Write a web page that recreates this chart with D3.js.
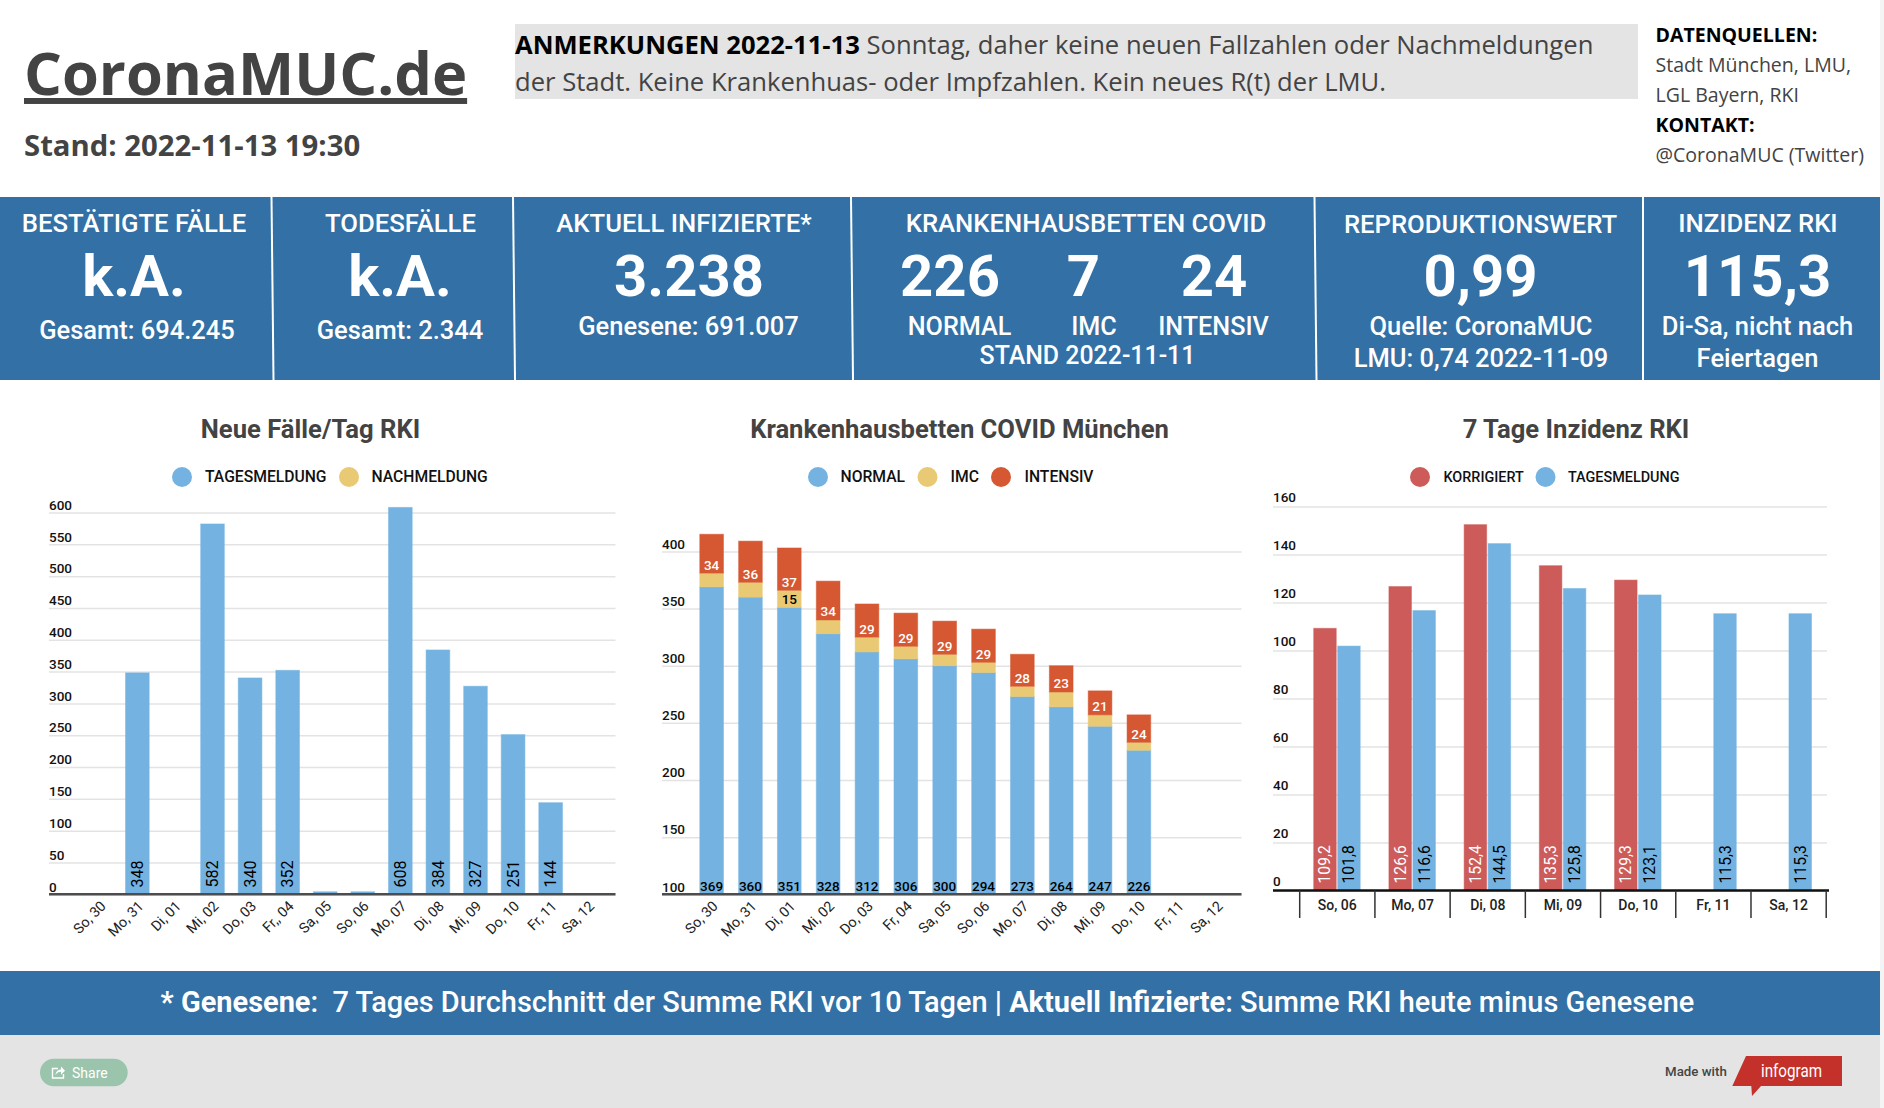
<!DOCTYPE html>
<html>
<head>
<meta charset="utf-8">
<title>CoronaMUC.de</title>
<script src="https://cdn.jsdelivr.net/npm/d3@7"></script>
<style>
  html, body { margin: 0; padding: 0; background: #fff; overflow: hidden; }
  text { font-family: Roboto, sans-serif; }
  text.os { font-family: "Open Sans", sans-serif; }
</style>
</head>
<body>
<svg id="page" width="1884" height="1108"></svg>
<script>
// chart 1
var casesDays = ["So, 30","Mo, 31","Di, 01","Mi, 02","Do, 03","Fr,, 04","Sa, 05","So, 06","Mo, 07","Di, 08","Mi, 09","Do, 10","Fr, 11","Sa, 12"];
var casesDaily = [0,348,0,582,340,352,4,4,608,384,327,251,144,0];
var casesTicks = [0,50,100,150,200,250,300,350,400,450,500,550,600];
// chart 2
var bedDays = ["So, 30","Mo, 31","Di, 01","Mi, 02","Do, 03","Fr, 04","Sa, 05","So, 06","Mo, 07","Di, 08","Mi, 09","Do, 10","Fr, 11","Sa, 12"];
var bedNormal = [369,360,351,328,312,306,300,294,273,264,247,226,0,0];
var bedImc = [12,13,15,12,13,11,10,9,9,13,10,7,0,0];
var bedIntensiv = [34,36,37,34,29,29,29,29,28,23,21,24,0,0];
var bedTicks = [100,150,200,250,300,350,400];
// chart 3
var incDays = ["So, 06","Mo, 07","Di, 08","Mi, 09","Do, 10","Fr, 11","Sa, 12"];
var incCorrected = [109.2,126.6,152.4,135.3,129.3,null,null];
var incDaily = [101.8,116.6,144.5,125.8,123.1,115.3,115.3];
var incTicks = [0,20,40,60,80,100,120,140,160];

var BLUE = "#74b3e1", YELLOW = "#e9c974", ORANGE = "#d55832", RED = "#cc5b59";
var BAND = "#3270a5", DARK = "#434343", GRID = "#e3e3e3", AXIS = "#4d4d4d";
var comma = function(v) { return String(v).replace(".", ","); };

var svg = d3.select("#page");

// strip on the right edge
svg.append("rect").attr("x", 1880).attr("width", 4).attr("height", 1108).attr("fill", "#f4f4f4");

// ---- header ----
svg.append("text").attr("class", "os").attr("x", 24).attr("y", 95)
  .attr("font-size", 59.6).attr("font-weight", 700).attr("fill", DARK)
  .attr("text-decoration", "underline").text("CoronaMUC.de");
svg.append("text").attr("class", "os").attr("x", 24).attr("y", 155.5)
  .attr("font-size", 29.3).attr("font-weight", 700).attr("fill", DARK)
  .text("Stand: 2022-11-13 19:30");

svg.append("rect").attr("x", 515).attr("y", 24).attr("width", 1123).attr("height", 75).attr("fill", "#e4e4e4");
var note1 = svg.append("text").attr("class", "os").attr("x", 515).attr("y", 54).attr("font-size", 25.6).attr("fill", DARK);
note1.append("tspan").attr("font-weight", 700).attr("fill", "#000").text("ANMERKUNGEN 2022-11-13 ");
note1.append("tspan").text("Sonntag, daher keine neuen Fallzahlen oder Nachmeldungen");
svg.append("text").attr("class", "os").attr("x", 515).attr("y", 90.5).attr("font-size", 25.6).attr("fill", DARK)
  .text("der Stadt. Keine Krankenhuas- oder Impfzahlen. Kein neues R(t) der LMU.");

var sources = [["DATENQUELLEN:",700,41.7],["Stadt München, LMU,",400,72],["LGL Bayern, RKI",400,102],["KONTAKT:",700,132],["@CoronaMUC (Twitter)",400,162]];
svg.selectAll("text.src").data(sources).join("text")
  .attr("class", "os src").attr("x", 1655.5).attr("y", function(d) { return d[2]; })
  .attr("font-size", 19.55).attr("font-weight", function(d) { return d[1]; })
  .attr("fill", function(d) { return d[1] == 700 ? "#000" : DARK; })
  .text(function(d) { return d[0]; });

// ---- kpi band ----
svg.append("rect").attr("y", 197).attr("width", 1880).attr("height", 183).attr("fill", BAND);
[[271.5,273.5],[513,515],[851,853],[1314.5,1316.5],[1643,1643]].forEach(function(s) {
  svg.append("line").attr("x1", s[0]).attr("x2", s[1]).attr("y1", 197).attr("y2", 380)
    .attr("stroke", "#fff").attr("stroke-width", 2);
});

function kpi(str, x, y, size, weight) {
  svg.append("text").attr("x", x).attr("y", y).attr("text-anchor", "middle")
    .attr("font-size", size).attr("font-weight", weight || 500).attr("fill", "#fff").text(str);
}
var HEAD = 25.7, BIG = 58, SUB = 25.5;
kpi("BESTÄTIGTE FÄLLE", 134, 232, HEAD);
kpi("k.A.", 134, 296, BIG, 700);
kpi("Gesamt: 694.245", 137, 339, SUB);
kpi("TODESFÄLLE", 400.5, 232, HEAD);
kpi("k.A.", 400, 296, BIG, 700);
kpi("Gesamt: 2.344", 400, 339, SUB);
kpi("AKTUELL INFIZIERTE*", 684, 232, HEAD);
kpi("3.238", 689, 296, BIG, 700);
kpi("Genesene: 691.007", 688.5, 335, SUB);
kpi("KRANKENHAUSBETTEN COVID", 1086, 232, HEAD);
kpi("226", 950, 296, BIG, 700);
kpi("7", 1083.5, 296, BIG, 700);
kpi("24", 1214, 296, BIG, 700);
kpi("NORMAL", 959.5, 335, 25.2);
kpi("IMC", 1094, 335, 25.2);
kpi("INTENSIV", 1213.5, 335, 25.2);
kpi("STAND 2022-11-11", 1087.5, 364, 24.9);
kpi("REPRODUKTIONSWERT", 1480.5, 232.5, HEAD);
kpi("0,99", 1480.5, 296, BIG, 700);
kpi("Quelle: CoronaMUC", 1481, 335, SUB);
kpi("LMU: 0,74 2022-11-09", 1481, 367, SUB);
kpi("INZIDENZ RKI", 1758, 232, HEAD);
kpi("115,3", 1757.5, 296, BIG, 700);
kpi("Di-Sa, nicht nach", 1757.5, 335, SUB);
kpi("Feiertagen", 1757.5, 367, SUB);

// ---- chart helpers ----
function title(str, x) {
  svg.append("text").attr("x", x).attr("y", 437.5).attr("text-anchor", "middle")
    .attr("font-size", 25.6).attr("font-weight", 700).attr("fill", DARK).text(str);
}
function legend(items, size) {
  items.forEach(function(it) {
    svg.append("circle").attr("cx", it[0]).attr("cy", 477).attr("r", 10).attr("fill", it[1]);
    svg.append("text").attr("x", it[2]).attr("y", 482).attr("font-size", size).attr("font-weight", 500).attr("fill", "#111").text(it[3]);
  });
}
function yGrid(y, ticks, x0, x1, lift) {
  var g = svg.append("g").attr("transform", "translate(" + x0 + ",0)")
    .call(d3.axisRight(y).tickValues(ticks).tickSize(x1 - x0));
  g.select(".domain").remove();
  g.selectAll("line").attr("stroke", GRID).attr("stroke-width", 1.5);
  g.selectAll("text").attr("x", 0).attr("y", -lift).attr("dy", "0.35em")
    .attr("font-family", "Roboto, sans-serif").attr("font-size", 13.5).attr("font-weight", 500).attr("fill", "#111");
}
function slantLabels(x, y0) {
  var g = svg.append("g").attr("transform", "translate(0," + y0 + ")")
    .call(d3.axisBottom(x).tickSize(0).tickPadding(0));
  g.select(".domain").remove();
  g.selectAll("text").attr("y", 0).attr("dy", 0).attr("text-anchor", "end")
    .attr("transform", "translate(7,0) rotate(-45)")
    .attr("font-family", "Roboto, sans-serif").attr("font-size", 14.3).attr("fill", "#222");
}
function bars(g, fill) {
  return g.attr("fill", fill).attr("stroke", fill).attr("stroke-opacity", 0.5).attr("stroke-width", 1);
}

// ---- chart 1: Neue Fälle ----
title("Neue Fälle/Tag RKI", 310.5);
legend([[182, BLUE, 205, "TAGESMELDUNG"], [349, YELLOW, 371.5, "NACHMELDUNG"]], 15.7);
var x1 = d3.scaleBand().domain(casesDays).range([81, 607]).paddingInner(0.37).paddingOuter(0.185);
var y1 = d3.scaleLinear().domain([0, 600]).range([894.3, 512.5]);
yGrid(y1, casesTicks, 49, 615.5, 8);
var rows1 = casesDays.map(function(d, i) { return { day: d, v: casesDaily[i] }; });
bars(svg.append("g"), BLUE).selectAll("rect").data(rows1.filter(function(r) { return r.v > 0; })).join("rect")
  .attr("x", function(r) { return x1(r.day); }).attr("width", x1.bandwidth())
  .attr("y", function(r) { return y1(r.v); }).attr("height", function(r) { return y1(0) - y1(r.v); });
svg.append("g").selectAll("text").data(rows1.filter(function(r) { return r.v > 10; })).join("text")
  .attr("transform", function(r) { return "translate(" + (x1(r.day) + x1.bandwidth() / 2) + ",887.5) rotate(-90)"; })
  .attr("dy", "0.35em").attr("font-size", 16).attr("fill", "#000").text(function(r) { return r.v; });
svg.append("line").attr("x1", 49).attr("x2", 615.5).attr("y1", y1(0)).attr("y2", y1(0)).attr("stroke", AXIS).attr("stroke-width", 2.5);
slantLabels(x1, 907);

// ---- chart 2: Krankenhausbetten ----
title("Krankenhausbetten COVID München", 959.5);
legend([[818, BLUE, 840.5, "NORMAL"], [927.5, YELLOW, 950.5, "IMC"], [1001, ORANGE, 1024.5, "INTENSIV"]], 15.7);
var x2 = d3.scaleBand().domain(bedDays).range([692.2, 1236]).paddingInner(0.39).paddingOuter(0.195);
var y2 = d3.scaleLinear().domain([100, 400]).range([894.3, 551.4]);
yGrid(y2, bedTicks, 662, 1241.5, 8);
var rows2 = bedDays.map(function(d, i) { return { day: d, normal: bedNormal[i], imc: bedImc[i], intensiv: bedIntensiv[i] }; })
  .filter(function(r) { return r.normal > 0; });
var stack2 = d3.stack().keys(["normal", "imc", "intensiv"])(rows2);
var fills2 = [BLUE, YELLOW, ORANGE], inks2 = ["#000", "#000", "#fff"];
stack2.forEach(function(layer, i) {
  bars(svg.append("g"), fills2[i]).selectAll("rect").data(layer).join("rect")
    .attr("x", function(d) { return x2(d.data.day); }).attr("width", x2.bandwidth())
    .attr("y", function(d) { return y2(d[1]); })
    .attr("height", function(d) { return y2(Math.max(d[0], 100)) - y2(d[1]); });
});
stack2.forEach(function(layer, i) {
  // values under 15 do not fit, the original hides them
  svg.append("g").selectAll("text").data(layer.filter(function(d) { return d[1] - d[0] >= 15; })).join("text")
    .attr("x", function(d) { return x2(d.data.day) + x2.bandwidth() / 2; })
    .attr("y", function(d) { return y2(Math.max(d[0], 100)) - 8.3; })
    .attr("dy", "0.35em").attr("text-anchor", "middle").attr("font-size", 13.5).attr("font-weight", 500).attr("fill", inks2[i])
    .text(function(d) { return d[1] - d[0]; });
});
svg.append("line").attr("x1", 662).attr("x2", 1241.5).attr("y1", y2(100)).attr("y2", y2(100)).attr("stroke", AXIS).attr("stroke-width", 2.5);
slantLabels(x2, 907);

// ---- chart 3: Inzidenz ----
title("7 Tage Inzidenz RKI", 1576);
legend([[1420, RED, 1443.5, "KORRIGIERT"], [1545.5, BLUE, 1568, "TAGESMELDUNG"]], 14.4);
var x3 = d3.scaleBand().domain(incDays).range([1299.7, 1826.2]);
var inner = d3.scaleBand().domain(["k", "t"]).range([14, 60.5]).paddingInner(0.06);
var y3 = d3.scaleLinear().domain([0, 160]).range([890.4, 506.4]);
yGrid(y3, incTicks, 1273, 1827, 10);
var series3 = [["k", incCorrected, RED, "#fff"], ["t", incDaily, BLUE, "#000"]];
series3.forEach(function(s) {
  var rows = incDays.map(function(d, i) { return { day: d, v: s[1][i] }; }).filter(function(r) { return r.v != null; });
  bars(svg.append("g"), s[2]).selectAll("rect").data(rows).join("rect")
    .attr("x", function(r) { return x3(r.day) + inner(s[0]); }).attr("width", inner.bandwidth())
    .attr("y", function(r) { return y3(r.v); }).attr("height", function(r) { return y3(0) - y3(r.v); });
  svg.append("g").selectAll("text").data(rows).join("text")
    .attr("transform", function(r) { return "translate(" + (x3(r.day) + inner(s[0]) + inner.bandwidth() / 2) + ",883.5) rotate(-90)"; })
    .attr("dy", "0.35em").attr("font-size", 15.7).attr("fill", s[3]).text(function(r) { return comma(r.v); });
});
svg.append("line").attr("x1", 1273).attr("x2", 1829).attr("y1", y3(0)).attr("y2", y3(0)).attr("stroke", "#111").attr("stroke-width", 2.5);
var seps3 = incDays.map(function(d) { return x3(d); }).concat([x3.range()[1]]);
svg.append("g").selectAll("line").data(seps3).join("line")
  .attr("x1", function(v) { return v; }).attr("x2", function(v) { return v; })
  .attr("y1", y3(0)).attr("y2", 918).attr("stroke", "#333").attr("stroke-width", 1.5);
var axis3 = svg.append("g").attr("transform", "translate(0," + y3(0) + ")").call(d3.axisBottom(x3).tickSize(0).tickPadding(0));
axis3.select(".domain").remove();
axis3.selectAll("text").attr("y", 905 - y3(0)).attr("dy", "0.35em")
  .attr("font-family", "Roboto, sans-serif").attr("font-size", 14).attr("font-weight", 500).attr("fill", "#222");

// ---- footer ----
svg.append("rect").attr("y", 971).attr("width", 1880).attr("height", 64).attr("fill", BAND);
var foot = svg.append("text").attr("x", 927.5).attr("y", 1011.5).attr("text-anchor", "middle").attr("font-size", 28.95).attr("font-weight", 500).attr("fill", "#fff").attr("xml:space", "preserve");
foot.append("tspan").attr("font-weight", 700).text("* Genesene");
foot.append("tspan").text(":  7 Tages Durchschnitt der Summe RKI vor 10 Tagen | ");
foot.append("tspan").attr("font-weight", 700).text("Aktuell Infizierte");
foot.append("tspan").text(": Summe RKI heute minus Genesene");

svg.append("rect").attr("y", 1035).attr("width", 1880).attr("height", 73).attr("fill", "#e4e4e4");
svg.append("rect").attr("x", 40).attr("y", 1058.7).attr("width", 87.7).attr("height", 27.6).attr("rx", 13.8).attr("fill", "#9bc4ac");
svg.append("path").attr("d", "M58 1068.5h-5.5v9.5h11v-4").attr("fill", "none").attr("stroke", "#fff").attr("stroke-width", 1.4);
svg.append("path").attr("d", "M55.5 1075c0.5-4 3-5.5 5.5-5.5v-3l4 4.2-4 4v-3c-2.5 0-4 1-5.5 3.3z").attr("fill", "#fff");
svg.append("text").attr("x", 72).attr("y", 1078).attr("font-size", 14).attr("fill", "#fff").text("Share");
svg.append("text").attr("x", 1665).attr("y", 1076).attr("font-size", 13.3).attr("font-weight", 500).attr("fill", "#444").text("Made with");
svg.append("path").attr("d", "M1746 1056H1842V1086H1761L1752 1096L1751.3 1086H1732.3Z").attr("fill", "#c4312a");
svg.append("text").attr("x", 1761).attr("y", 1077).attr("font-size", 19).attr("textLength", 61).attr("lengthAdjust", "spacingAndGlyphs").attr("fill", "#fff").text("infogram");
</script>
</body>
</html>
